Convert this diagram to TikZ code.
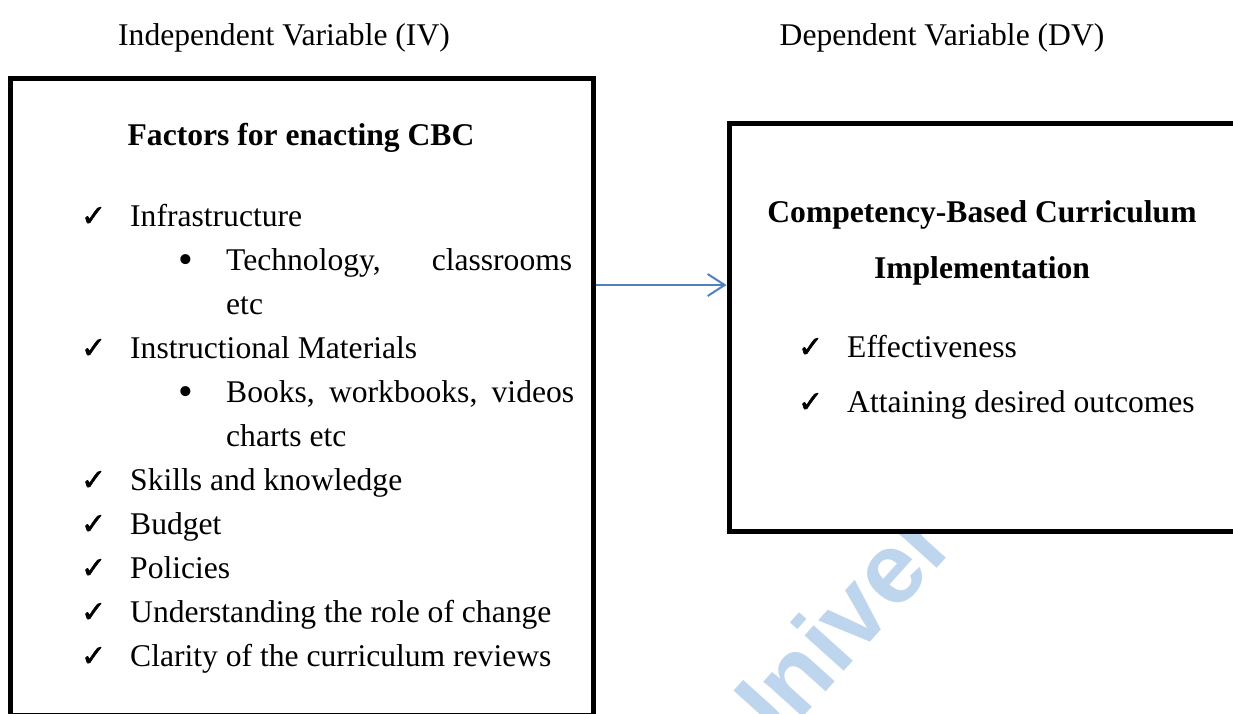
\documentclass[tikz,border=0pt]{standalone}
\usepackage{fontspec}
\setmainfont{Liberation Serif}
\newfontfamily\symfont{DejaVu Sans}[FakeBold=1.6]
\newfontfamily\markfont{Liberation Sans}
\usepackage{xcolor}
\usetikzlibrary{positioning, arrows.meta}

\definecolor{arrowblue}{RGB}{79,129,189}
\definecolor{markblue}{RGB}{190,213,238}

% check mark and bullet hung left of the item text
\newcommand{\chk}{\llap{{\symfont\fontsize{30}{30}\selectfont ✓}\hspace{24pt}}}
\newcommand{\dotb}{\llap{\raisebox{-3pt}{\fontsize{42}{42}\selectfont\textbullet}\hspace{33pt}}}

\begin{document}
\begin{tikzpicture}[x=1pt, y=-1pt, inner sep=0pt, >={Straight Barb[length=17pt, width=22pt]},
    every node/.style={font=\fontsize{31.6}{38}\selectfont},
    box/.style={draw, line width=5pt, fill=white},
    item/.style={anchor=base west},
    title/.style={anchor=base, font=\fontsize{31.6}{38}\selectfont\bfseries}]
    \useasboundingbox (0,0) rectangle (1233,713);

    \node[text=markblue, font=\markfont\bfseries\fontsize{100}{100}\selectfont, rotate=48, anchor=base west] (WM) at (750,776) {Univer};

    \node[box, minimum width=583pt, minimum height=637pt] (IV) at (301.5,396.5) {};
    \node[box, minimum width=506pt, minimum height=408pt] (DV) at (982,327) {};

    \node[anchor=base] (H1) at (284,45) {Independent Variable (IV)};
    \node[anchor=base] (H2) at (942,45) {Dependent Variable (DV)};

    \node[title] (T1) at (301,145) {Factors for enacting CBC};
    \node[item] (I1) at (130,226) {\chk Infrastructure};
    \node[item] (I2) at (226,270) {\dotb\makebox[346pt][s]{Technology, classrooms}};
    \node[item] (I3) at (226,314) {etc};
    \node[item] (I4) at (130,358) {\chk Instructional Materials};
    \node[item] (I5) at (226,402) {\dotb\makebox[348pt][s]{Books, workbooks, videos}};
    \node[item] (I6) at (226,446) {charts etc};
    \node[item] (I7) at (130,490) {\chk Skills and knowledge};
    \node[item] (I8) at (130,534) {\chk Budget};
    \node[item] (I9) at (130,578) {\chk Policies};
    \node[item] (I10) at (130,622) {\chk Understanding the role of change};
    \node[item] (I11) at (130,666) {\chk Clarity of the curriculum reviews};

    \node[title] (T2) at (982,222) {Competency-Based Curriculum};
    \node[title] (T3) at (982,278) {Implementation};
    \node[item] (O1) at (847,357) {\chk Effectiveness};
    \node[item] (O2) at (847,412) {\chk Attaining desired outcomes};

    \coordinate (lvl) at (0,285);
    \draw[->, arrowblue, line width=2pt] (IV.east |- lvl) -- (DV.west |- lvl);
\end{tikzpicture}
\end{document}
